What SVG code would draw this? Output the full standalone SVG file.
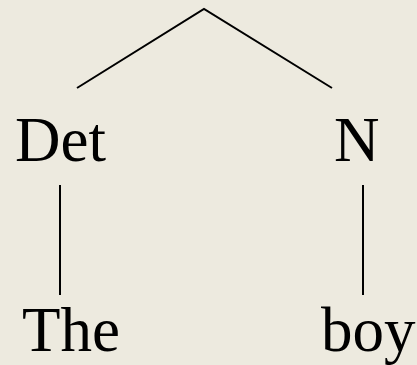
<svg xmlns="http://www.w3.org/2000/svg" width="417" height="365" viewBox="0 0 417 365">
<style>
.t{font-family:"Liberation Serif","Times New Roman",serif;font-size:63px;fill:#000}
.c{stroke:#000;stroke-width:2;fill:none}
</style>
<rect width="417" height="365" fill="#EDEADF"/>
<g id="connectors">
<polyline class="c" points="77,88 204,9 332,88"/>
<line class="c" x1="60" y1="185" x2="60" y2="295"/>
<line class="c" x1="363" y1="185" x2="363" y2="295"/>
</g>
<g id="det"><text class="t" x="15" y="161">Det</text></g>
<g id="n"><text class="t" x="334" y="161">N</text></g>
<g id="the"><text class="t" x="22" y="351">The</text></g>
<g id="boy"><text class="t" x="321" y="351">boy</text></g>
</svg>
